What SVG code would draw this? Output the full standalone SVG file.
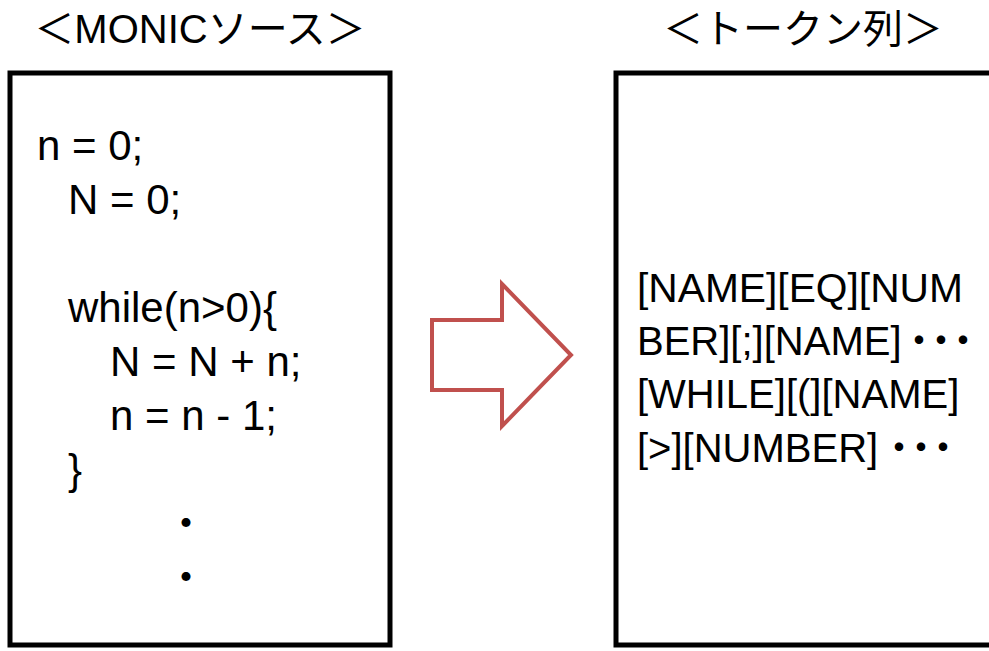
<svg xmlns="http://www.w3.org/2000/svg" width="989" height="651" viewBox="0 0 989 651">
  <style>
    .title { font-family: "Liberation Sans", "Noto Sans CJK JP", sans-serif; font-size: 40px; fill: #000; text-anchor: middle; }
    .code { font-family: "Liberation Sans", "Noto Sans CJK JP", sans-serif; font-size: 42px; fill: #000; }
    .tok { font-family: "Liberation Sans", "Noto Sans CJK JP", sans-serif; font-size: 40px; fill: #000; }
    .dots { letter-spacing: -18px; }
    .box { fill: #fff; stroke: #000; stroke-width: 5; }
    .flow { fill: #fff; stroke: #C0504D; stroke-width: 4; stroke-linejoin: miter; }
  </style>
  <rect width="989" height="651" fill="#fff"/>

  <!-- source program panel -->
  <g id="source">
    <text class="title" x="200" y="43">＜MONICソース＞</text>
    <rect class="box" x="10" y="73" width="380" height="572"/>
    <text class="code" x="37" y="160">n = 0;</text>
    <text class="code" x="68" y="214">N = 0;</text>
    <text class="code" x="68" y="322">while(n&gt;0){</text>
    <text class="code" x="110" y="376">N = N + n;</text>
    <text class="code" x="110" y="430">n = n - 1;</text>
    <text class="code" x="68" y="484">}</text>
    <text class="code" x="186" y="538" text-anchor="middle">・</text>
    <text class="code" x="186" y="592" text-anchor="middle">・</text>
  </g>

  <!-- transformation arrow -->
  <g id="connectors">
    <path class="flow" d="M432,320 H502 V284 L571,355 L502,426 V390 H432 Z"/>
  </g>

  <!-- token stream panel -->
  <g id="tokens">
    <text class="title" x="803" y="43">＜トークン列＞</text>
    <rect class="box" x="616" y="73" width="400" height="572"/>
    <text class="tok" x="637" y="302" textLength="326" lengthAdjust="spacingAndGlyphs">[NAME][EQ][NUM</text>
    <text class="tok" x="637" y="355">BER][;][NAME]</text>
    <text class="tok dots" x="899" y="355">・・・</text>
    <text class="tok" x="637" y="408">[WHILE][(][NAME]</text>
    <text class="tok" x="637" y="462">[&gt;][NUMBER]</text>
    <text class="tok dots" x="879" y="462">・・・</text>
  </g>
</svg>
